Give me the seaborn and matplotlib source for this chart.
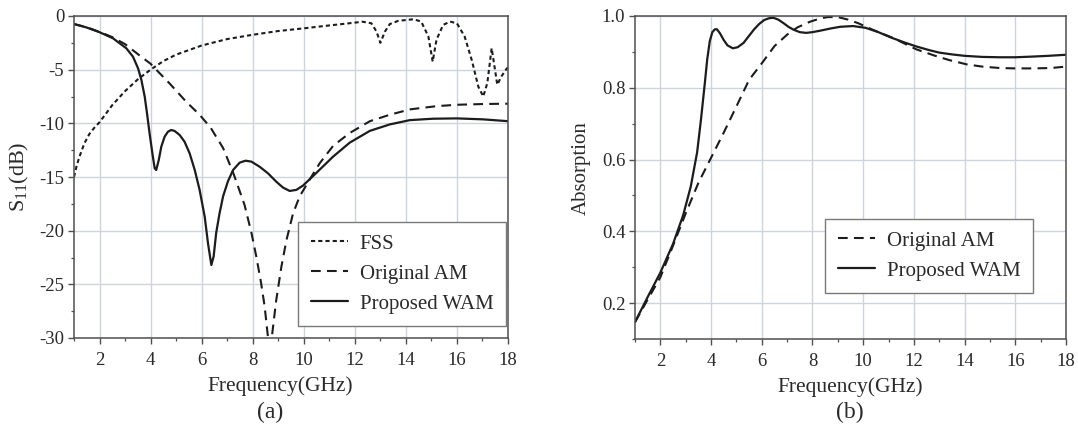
import numpy as np
import pandas as pd
import matplotlib
matplotlib.use("Agg")
import matplotlib.pyplot as plt
import seaborn as sns
from matplotlib.ticker import MultipleLocator

# ---------------- data ----------------
fss_f = [1.0, 1.1, 1.2, 1.4, 1.6, 1.8, 2.0, 2.5, 3.0, 3.5, 4.0, 4.5, 5.0, 6.0, 7.0, 8.0,
         9.0, 10.0, 11.0, 12.0, 12.3, 12.65, 12.85, 13.0, 13.18, 13.37, 13.7, 14.03,
         14.3, 14.6, 14.88, 15.05, 15.2, 15.46, 15.73, 16.0, 16.3, 16.58, 16.84,
         17.03, 17.19, 17.36, 17.49, 17.58, 17.75, 17.95, 18.0]
fss_s = [-15.0, -14.0, -13.2, -11.9, -11.0, -10.4, -9.9, -8.3, -7.0, -5.9, -5.0, -4.2,
         -3.6, -2.75, -2.15, -1.75, -1.4, -1.15, -0.88, -0.62, -0.53, -0.68, -1.45,
         -2.5, -1.45, -0.75, -0.45, -0.37, -0.3, -0.52, -1.9, -4.25, -2.2, -0.83, -0.52,
         -0.68, -1.9, -4.1, -6.6, -7.5, -6.25, -3.0, -5.0, -6.4, -5.6, -4.9, -4.8]

am_f = [1.0, 1.5, 2.0, 2.5, 3.0, 3.5, 4.0, 4.22, 4.75, 5.4, 5.92, 6.35, 6.84, 7.25,
        7.68, 7.95, 8.14, 8.33, 8.47, 8.56, 8.67, 8.79, 8.92, 9.12, 9.32, 9.58, 9.84,
        10.24, 10.63, 11.15, 11.8, 12.59, 13.37, 14.16, 15.2, 16.0, 17.05, 18.0]
am_s = [-0.75, -1.05, -1.48, -1.97, -2.62, -3.55, -4.45, -5.0, -6.3, -8.0, -9.2,
        -10.4, -12.3, -14.7, -17.6, -20.2, -22.4, -24.9, -27.1, -29.1, -31.5, -29.1,
        -26.5, -23.4, -20.9, -18.4, -16.8, -15.2, -13.7, -12.1, -10.9, -9.8, -9.2,
        -8.7, -8.4, -8.27, -8.2, -8.17]

wam_f = [1.0, 1.48, 2.01, 2.53, 3.05, 3.31, 3.51, 3.64, 3.77, 3.86, 3.96, 4.07, 4.16,
         4.22, 4.32, 4.42, 4.55, 4.68, 4.81, 4.94, 5.14, 5.33, 5.53, 5.73, 5.92, 6.12,
         6.25, 6.38, 6.47, 6.57, 6.70, 6.84, 7.03, 7.23, 7.49, 7.72, 7.95, 8.27, 8.60,
         8.92, 9.19, 9.45, 9.71, 9.97, 10.5, 11.15, 11.8, 12.59, 13.37, 14.16, 15.07,
         16.0, 17.03, 18.0]
wam_s = [-0.75, -1.06, -1.52, -2.08, -3.01, -3.79, -4.88, -5.96, -7.52, -9.07, -10.93,
         -12.8, -14.19, -14.35, -13.42, -12.17, -11.24, -10.78, -10.62, -10.71, -11.09,
         -11.71, -12.8, -14.35, -16.2, -18.7, -21.2, -23.2, -22.4, -20.2, -18.4, -16.8,
         -15.4, -14.35, -13.66, -13.48, -13.57, -14.04, -14.66, -15.43, -15.99, -16.3,
         -16.2, -15.8, -14.6, -13.1, -11.8, -10.7, -10.1, -9.7, -9.57, -9.54, -9.63,
         -9.8]

abs_am_f = [1.0, 1.5, 2.0, 2.5, 3.0, 3.5, 4.0, 4.5, 5.0, 5.5, 6.0, 6.5, 7.0, 7.4, 7.9,
            8.3, 8.6, 9.0, 9.4, 9.8, 10.4, 11.2, 12.1, 12.8, 13.4, 14.1, 14.7, 15.4,
            16.0, 16.7, 17.4, 18.0]
abs_am_a = [0.147, 0.21, 0.272, 0.36, 0.45, 0.535, 0.605, 0.675, 0.748, 0.822, 0.868,
            0.916, 0.948, 0.968, 0.984, 0.993, 0.997, 0.997, 0.99, 0.98, 0.961, 0.938,
            0.907, 0.89, 0.877, 0.865, 0.859, 0.855, 0.854, 0.854, 0.855, 0.859]

abs_wam_f = [1.0, 1.5, 2.0, 2.5, 2.9, 3.2, 3.45, 3.6, 3.75, 3.85, 3.95, 4.05, 4.15,
             4.23, 4.35, 4.5, 4.65, 4.86, 5.05, 5.28, 5.5, 5.7, 5.9, 6.1, 6.3, 6.46,
             6.65, 6.86, 7.05, 7.25, 7.5, 7.75, 8.0, 8.3, 8.7, 9.1, 9.6, 10.1, 10.6,
             11.1, 11.6, 12.1, 12.6, 13.0, 13.5, 14.0, 14.7, 15.4, 16.0, 16.7, 17.3, 18.0]
abs_wam_a = [0.147, 0.217, 0.285, 0.365, 0.445, 0.525, 0.62, 0.71, 0.81, 0.88, 0.93,
             0.955, 0.963, 0.963, 0.952, 0.933, 0.918, 0.91, 0.913, 0.925, 0.945, 0.963,
             0.978, 0.989, 0.994, 0.995, 0.99, 0.98, 0.97, 0.962, 0.955, 0.953, 0.955,
             0.959, 0.965, 0.97, 0.972, 0.967, 0.955, 0.94, 0.927, 0.915, 0.905, 0.898,
             0.893, 0.889, 0.886, 0.885, 0.885, 0.887, 0.889, 0.892]

x_ticks = [2, 4, 6, 8, 10, 12, 14, 16, 18]
a_yticks = [0, -5, -10, -15, -20, -25, -30]
b_yticks = [0.2, 0.4, 0.6, 0.8, 1.0]

# ---------------- style ----------------
sns.set_style("white")
plt.rcParams["font.family"] = ["Liberation Serif", "DejaVu Serif"]
plt.rcParams["mathtext.fontset"] = "custom"
plt.rcParams["mathtext.rm"] = "Liberation Serif"
plt.rcParams["mathtext.it"] = "Liberation Serif:italic"
plt.rcParams["axes.unicode_minus"] = False
plt.rcParams["lines.scale_dashes"] = False

LINE = "#1c1c1c"
SPINE = "#505050"
GRID = "#cfd3de"
TXT = "#2a2a2a"
DOT = [3.0, 2.2]
DASH = [7.0, 4.5]

fig = plt.figure(figsize=(10.78, 4.34), dpi=100)
axa = fig.add_axes([74 / 1078, 1 - 338 / 434, 434 / 1078, 322 / 434])
axb = fig.add_axes([635 / 1078, 1 - 339 / 434, 431 / 1078, 323 / 434])


def style_axes(ax):
    ax.set_xlim(1, 18)
    ax.xaxis.set_major_locator(MultipleLocator(2))
    ax.xaxis.set_minor_locator(MultipleLocator(1))
    ax.grid(True, which="major", color=GRID, linewidth=1.0)
    ax.set_axisbelow(True)
    for s in ax.spines.values():
        s.set_color(SPINE)
        s.set_linewidth(1.1)
    ax.tick_params(which="both", direction="out", colors=SPINE, labelcolor=TXT,
                   top=False, right=False, left=True, bottom=True)
    ax.tick_params(which="major", length=4, width=1.0, labelsize=13.5)
    ax.tick_params(axis="x", which="major", pad=6)
    ax.tick_params(axis="y", which="major", pad=3)
    ax.tick_params(which="minor", length=2.5, width=0.9)
    ax.set_xticks(x_ticks)


def style_legend(leg, dashes):
    leg.get_frame().set_linewidth(1.0)
    for t in leg.get_texts():
        t.set_color(TXT)
    for h, d in zip(leg.get_lines(), dashes):
        if d is not None:
            h.set_dashes(d)


LEG_KW = dict(borderaxespad=0.0, fontsize=15, frameon=True, fancybox=False,
              edgecolor="#7a7a7a", framealpha=1.0, handlelength=1.8,
              handletextpad=0.55, labelspacing=0.5, borderpad=0.6)

# ---------------- panel (a) ----------------
df_fss = pd.DataFrame({"f": fss_f, "s": fss_s})
df_am = pd.DataFrame({"f": am_f, "s": am_s})
df_wam = pd.DataFrame({"f": wam_f, "s": wam_s})

sns.lineplot(data=df_fss, x="f", y="s", ax=axa, color=LINE, lw=1.5, label="FSS",
             estimator=None, sort=False)
sns.lineplot(data=df_am, x="f", y="s", ax=axa, color=LINE, lw=1.5, label="Original AM",
             estimator=None, sort=False)
sns.lineplot(data=df_wam, x="f", y="s", ax=axa, color=LINE, lw=1.6, label="Proposed WAM",
             estimator=None, sort=False)
la = axa.get_lines()
la[0].set_dashes(DOT)
la[1].set_dashes(DASH)

style_axes(axa)
axa.set_ylim(-30, 0)
axa.set_yticks(a_yticks)
axa.yaxis.set_minor_locator(MultipleLocator(2.5))
axa.set_xlabel("Frequency(GHz)", fontsize=15.5, color=TXT)
axa.xaxis.set_label_coords((280 - 74) / 434, -0.118)
axa.set_ylabel("S$_{11}$(dB)", fontsize=16, color=TXT)
axa.yaxis.set_label_coords(-0.10, 0.5)

leg = axa.legend(loc="lower right", bbox_to_anchor=(0.995, 0.037), **LEG_KW)
style_legend(leg, [DOT, DASH, None])

# ---------------- panel (b) ----------------
df_bam = pd.DataFrame({"f": abs_am_f, "a": abs_am_a})
df_bwam = pd.DataFrame({"f": abs_wam_f, "a": abs_wam_a})
sns.lineplot(data=df_bam, x="f", y="a", ax=axb, color=LINE, lw=1.5, label="Original AM",
             estimator=None, sort=False)
sns.lineplot(data=df_bwam, x="f", y="a", ax=axb, color=LINE, lw=1.6, label="Proposed WAM",
             estimator=None, sort=False)
lb = axb.get_lines()
lb[0].set_dashes(DASH)

style_axes(axb)
axb.set_ylim(0.1, 1.0)
axb.set_yticks(b_yticks)
axb.set_yticklabels([f"{v:.1f}" for v in b_yticks])
axb.yaxis.set_minor_locator(MultipleLocator(0.1))
axb.set_xlabel("Frequency(GHz)", fontsize=15.5, color=TXT)
axb.xaxis.set_label_coords(0.5, -0.118)
axb.set_ylabel("Absorption", fontsize=15, color=TXT)
axb.yaxis.set_label_coords(-0.102, 0.53)

legb = axb.legend(loc="lower left", bbox_to_anchor=(0.441, 0.142), **LEG_KW)
style_legend(legb, [DASH, None])

# panel captions
fig.text(270 / 1078, 1 - 412 / 434, "(a)", ha="center", va="center", fontsize=17, color=TXT)
fig.text(850 / 1078, 1 - 412 / 434, "(b)", ha="center", va="center", fontsize=17, color=TXT)

fig.savefig("out.png", dpi=100, facecolor="white")
